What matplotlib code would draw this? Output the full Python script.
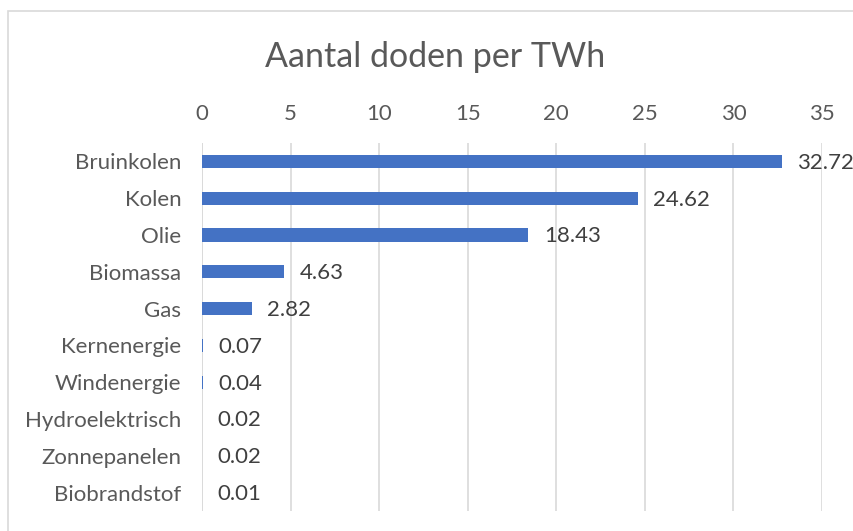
import matplotlib.pyplot as plt
from matplotlib.patches import Rectangle

categorieen = ['Bruinkolen', 'Kolen', 'Olie', 'Biomassa', 'Gas', 'Kernenergie',
               'Windenergie', 'Hydroelektrisch', 'Zonnepanelen', 'Biobrandstof']
doden = [32.72, 24.62, 18.43, 4.63, 2.82, 0.07, 0.04, 0.02, 0.02, 0.01]
labels = ['32.72', '24.62', '18.43', '4.63', '2.82', '0.07', '0.04', '0.02', '0.02', '0.01']
ticks = [0, 5, 10, 15, 20, 25, 30, 35]

plt.rcParams['font.family'] = ['Lato', 'DejaVu Sans']

W, H = 854, 531
fig = plt.figure(figsize=(W / 100, H / 100), dpi=100)

# Excel-achtige rand om de grafiek (rechts en onder afgesneden)
fig.patches.append(Rectangle((8 / W, -0.1), 1.2, 1.1 - 11 / H, transform=fig.transFigure,
                             fill=False, edgecolor='#D9D9D9', linewidth=1.2))

ax = fig.add_axes([202 / W, 1 - 511 / H, 620 / W, (511 - 143) / H])
y = list(range(len(categorieen)))
ax.barh(y, doden, height=0.36, color='#4472C4', zorder=3)

for yi, v, t in zip(y, doden, labels):
    ax.annotate(t, (v, yi), xytext=(11, -1), textcoords='offset points',
                va='center', ha='left', fontsize=16, color='#404040', zorder=4)

ax.set_xlim(0, 35)
ax.set_ylim(len(categorieen) - 0.5, -0.5)
ax.set_xticks(ticks)
ax.set_yticks(y)
ax.set_yticklabels(categorieen)
ax.xaxis.tick_top()
ax.tick_params(axis='x', length=0, pad=13.5, labelsize=16, labelcolor='#595959')
ax.tick_params(axis='y', length=0, pad=15, labelsize=16, labelcolor='#595959')
ax.grid(axis='x', color='#D9D9D9', linewidth=1.2, zorder=0)
for s in ax.spines.values():
    s.set_visible(False)
ax.axvline(0, color='#D9D9D9', linewidth=1.2, zorder=1)

fig.text(435 / W, 1 - 57 / H, 'Aantal doden per TWh', ha='center', va='center',
         fontsize=24.5, color='#595959')

fig.savefig('out.png', dpi=100)
